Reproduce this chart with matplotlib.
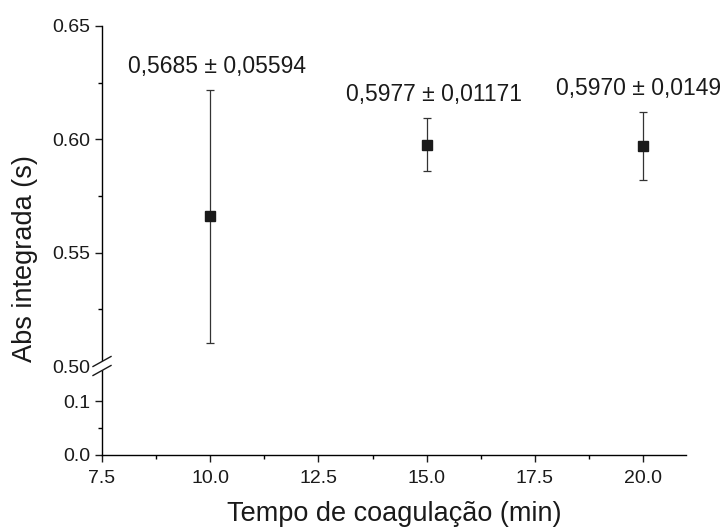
import numpy as np
import matplotlib
matplotlib.use("Agg")
import matplotlib.pyplot as plt
from matplotlib.ticker import FixedLocator, FormatStrFormatter
from matplotlib.lines import Line2D
from matplotlib.patches import Polygon

plt.rcParams['font.family'] = ['Liberation Sans', 'DejaVu Sans']

# data (plotted means, error half-widths, printed labels)
tempo = [10, 15, 20]
abs_int = [0.566, 0.5977, 0.5970]
desvio = [0.0559, 0.01171, 0.0149]
rotulos = ["0,5685 \u00b1 0,05594", "0,5977 \u00b1 0,01171", "0,5970 \u00b1 0,0149"]

x_major = [7.5, 10.0, 12.5, 15.0, 17.5, 20.0]
x_minor = [8.75, 11.25, 13.75, 16.25, 18.75]
y_top_major = [0.50, 0.55, 0.60, 0.65]
y_top_minor = [0.525, 0.575, 0.625]
y_bot_major = [0.0, 0.1]
y_bot_minor = [0.05]

fig = plt.figure(figsize=(7.26, 5.28), dpi=100)
left, width = 0.1405, 0.805
ax_bot = fig.add_axes([left, 0.1383, width, 0.1685])
ax_top = fig.add_axes([left, 0.3068, width, 0.644], sharex=ax_bot)

for ax in (ax_top, ax_bot):
    ax.spines['top'].set_visible(False)
    ax.spines['right'].set_visible(False)
    ax.spines['left'].set_linewidth(1.0)
    ax.tick_params(which='major', direction='out', length=5, width=1.0, labelsize=14, colors='#1a1a1a')
    ax.tick_params(which='minor', direction='out', length=3, width=1.0)
    ax.patch.set_alpha(0)

ax_top.spines['bottom'].set_visible(False)
ax_top.tick_params(axis='x', which='both', bottom=False, labelbottom=False)
ax_bot.spines['bottom'].set_linewidth(1.0)

ax_top.errorbar(tempo, abs_int, yerr=desvio, fmt='s', color='#1a1a1a', ms=7.2,
                ecolor='#333333', elinewidth=0.9, capsize=3, capthick=0.9, clip_on=False, zorder=3)

for i, (xi, yi, ei, txt) in enumerate(zip(tempo, abs_int, desvio, rotulos)):
    dx = 5 if i < len(tempo) - 1 else -3
    ax_top.annotate(txt, (xi, yi + ei), xytext=(dx, 17), textcoords='offset points',
                    ha='center', va='center', fontsize=16.5, color='#1a1a1a', annotation_clip=False)

ax_bot.set_xlim(7.5, 21.0)
ax_top.set_ylim(0.50, 0.65)
ax_bot.set_ylim(0.0, 0.165)

ax_bot.xaxis.set_major_locator(FixedLocator(x_major))
ax_bot.xaxis.set_minor_locator(FixedLocator(x_minor))
ax_bot.xaxis.set_major_formatter(FormatStrFormatter('%.1f'))
ax_top.yaxis.set_major_locator(FixedLocator(y_top_major))
ax_top.yaxis.set_minor_locator(FixedLocator(y_top_minor))
ax_top.yaxis.set_major_formatter(FormatStrFormatter('%.2f'))
ax_bot.yaxis.set_major_locator(FixedLocator(y_bot_major))
ax_bot.yaxis.set_minor_locator(FixedLocator(y_bot_minor))
ax_bot.yaxis.set_major_formatter(FormatStrFormatter('%.1f'))
ax_bot.tick_params(axis='x', which='major', pad=6)

ax_bot.set_xlabel("Tempo de coagula\u00e7\u00e3o (min)", fontsize=19.5, labelpad=10, color='#1a1a1a')
fig.text(0.034, 0.51, "Abs integrada (s)", rotation=90, fontsize=19.5, ha='center', va='center', color='#1a1a1a')

# axis break marks
W, H = 726.0, 528.0
yb = 528 - 366
x0, x1 = 93 / W, 111 / W
d = 4.5 / H
slope = 5 / H
gap = Polygon([(x0, yb / H + d - slope), (x1, yb / H + d + slope),
               (x1, yb / H - d + slope), (x0, yb / H - d - slope)],
              closed=True, transform=fig.transFigure, facecolor='white', edgecolor='none', zorder=5)
fig.patches.append(gap)
for off in (d, -d):
    fig.lines.append(Line2D([x0, x1], [yb / H + off - slope, yb / H + off + slope],
                            transform=fig.transFigure, color='#1a1a1a', lw=1.0, zorder=6))

fig.savefig("out.png", dpi=100)
